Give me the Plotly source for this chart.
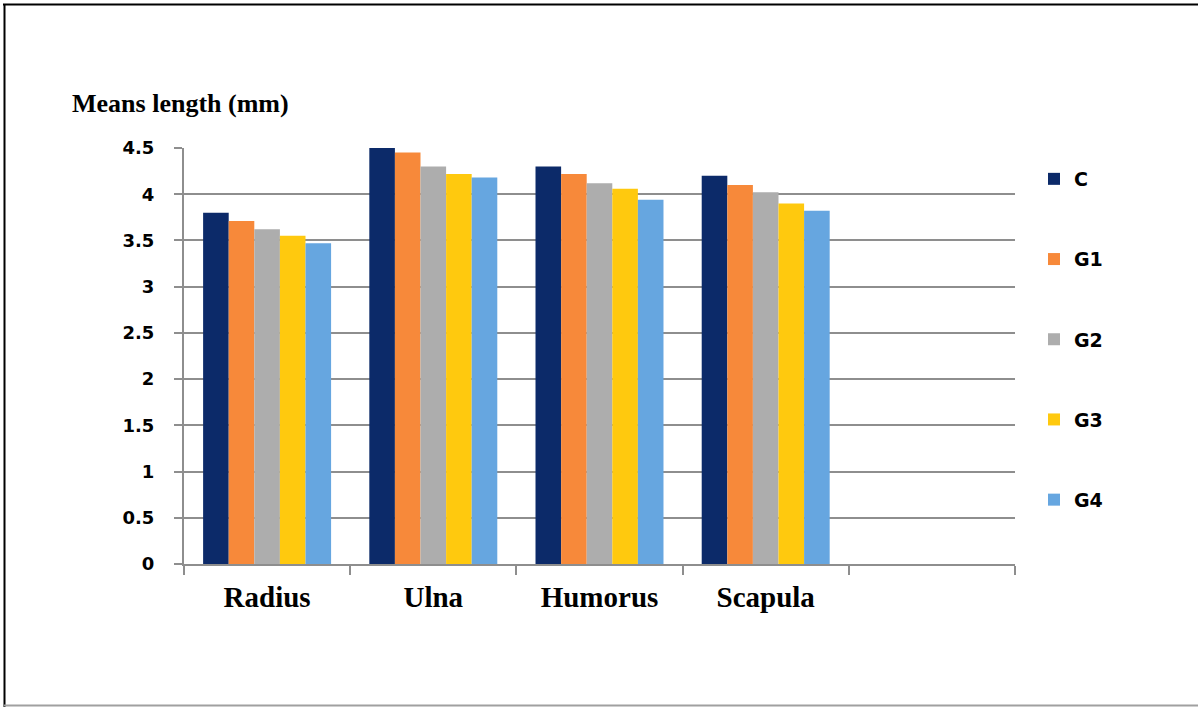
import plotly.graph_objects as go

# Mean bone lengths (mm) per group
bones = ["Radius", "Ulna", "Humorus", "Scapula", " "]
groups = ["C", "G1", "G2", "G3", "G4"]
values = {
    "C":  [3.80, 4.50, 4.30, 4.20, None],
    "G1": [3.71, 4.45, 4.22, 4.10, None],
    "G2": [3.62, 4.30, 4.12, 4.02, None],
    "G3": [3.55, 4.22, 4.06, 3.90, None],
    "G4": [3.47, 4.18, 3.94, 3.82, None],
}
colors = {
    "C": "#0c2a69",
    "G1": "#f7893a",
    "G2": "#adadad",
    "G3": "#ffc90e",
    "G4": "#66a6e0",
}
y_ticks = [0, 0.5, 1, 1.5, 2, 2.5, 3, 3.5, 4, 4.5]
y_tick_text = ["0", "0.5", "1", "1.5", "2", "2.5", "3", "3.5", "4", "4.5"]

W, H = 1198, 707
L, R, T, B = 184, 183, 148, 143
pw, ph = W - L - R, H - T - B


def px(x):
    return (x - L) / pw


def py(y):
    return (H - B - y) / ph


fig = go.Figure()
for g in groups:
    fig.add_trace(go.Bar(
        x=bones, y=values[g], name=g, legendgroup=g,
        marker=dict(color=colors[g], line=dict(width=0)),
    ))

grid_col = "#8e8e8e"
fig.update_layout(
    width=W, height=H,
    margin=dict(l=L, r=R, t=T, b=B, pad=0),
    paper_bgcolor="white", plot_bgcolor="white",
    barmode="group", bargap=0.23, bargroupgap=0,
    showlegend=True,
    legend=dict(
        x=px(1034), xanchor="left", y=py(160), yanchor="top",
        tracegroupgap=52.5, bgcolor="rgba(0,0,0,0)",
        font=dict(family="DejaVu Sans", size=19, color="black", weight="bold"),
        traceorder="grouped",
    ),
    xaxis=dict(
        type="category", categoryorder="array", categoryarray=bones,
        range=[-0.5, 4.5],
        showline=True, linecolor=grid_col, linewidth=2,
        ticks="outside", tickson="boundaries", ticklen=9, tickwidth=2, tickcolor=grid_col,
        showgrid=False, zeroline=False,
        tickfont=dict(family="Liberation Serif", size=29, color="black", weight="bold"),
        ticklabelstandoff=6,
    ),
    yaxis=dict(
        range=[0, 4.5], tickvals=y_ticks, ticktext=y_tick_text,
        showline=True, linecolor=grid_col, linewidth=2,
        ticks="outside", ticklen=8, tickwidth=2, tickcolor=grid_col,
        showgrid=True, gridcolor=grid_col, gridwidth=2, zeroline=False,
        tickfont=dict(family="DejaVu Sans", size=18, color="black", weight="bold"),
        ticklabelstandoff=16,
    ),
    annotations=[dict(
        text="Means length (mm)", xref="paper", yref="paper",
        x=px(70), y=py(104), xanchor="left", yanchor="middle", showarrow=False,
        font=dict(family="Liberation Serif", size=26, color="black", weight="bold"),
    )],
    shapes=[
        dict(type="line", xref="paper", yref="paper", x0=px(3), x1=px(1198),
             y0=py(4.5), y1=py(4.5), line=dict(color="black", width=2)),
        dict(type="line", xref="paper", yref="paper", x0=px(4.5), x1=px(4.5),
             y0=py(4), y1=py(707), line=dict(color="black", width=2)),
        dict(type="line", xref="paper", yref="paper", x0=px(4), x1=px(1198),
             y0=py(705.5), y1=py(705.5), line=dict(color="#a0a0a0", width=2)),
    ],
)

fig.write_html("out.html")
